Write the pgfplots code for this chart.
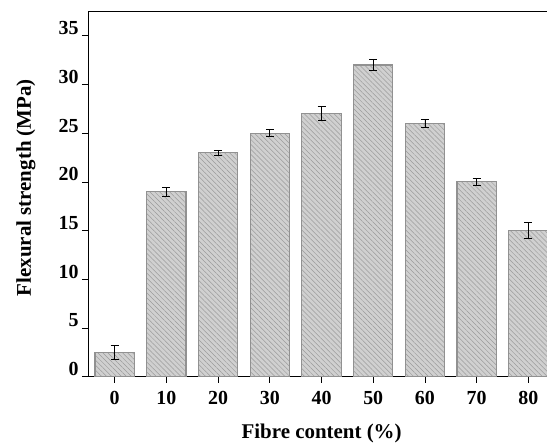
\documentclass[border=0pt]{standalone}
\usepackage{fontspec}
\setmainfont{Liberation Serif}
\usepackage{pgfplots}
\pgfplotsset{compat=1.18}
\usetikzlibrary{patterns.meta}
\definecolor{barfill}{RGB}{208,208,208}
\definecolor{baredge}{RGB}{145,145,145}
\definecolor{hatch}{RGB}{155,155,155}
\begin{document}
\begin{tikzpicture}
\begin{axis}[
  name=ax,
  scale only axis, width=459bp, height=365.7bp,
  xmin=-5.16, xmax=83.6, ymin=0, ymax=37.55,
  separate axis lines, axis x line*=bottom, axis y line*=left,
  axis line style={black, line width=0.9bp},
  xtick={0,10,...,80}, ytick={0,5,...,35},
  tick align=outside, major tick length=6bp,
  tick style={black, line width=0.8bp},
  ticklabel style={font=\fontsize{20}{23}\selectfont\bfseries},
  xticklabel style={yshift=-5bp},
  yticklabel style={yshift=7.5bp},
  /pgf/number format/assume math mode=true,
  xlabel={Fibre content (\%)}, ylabel={Flexural strength (MPa)},
  label style={font=\fontsize{21}{24}\selectfont\bfseries},
  xlabel style={at={(axis description cs:0.509,-0.154)}, anchor=center},
  ylabel style={at={(axis description cs:-0.135,0.517)}, anchor=center},
  clip=false,
]
\addplot[ybar, bar width=7.6, fill=barfill, draw=baredge, line width=1.1bp,
  postaction={pattern={Lines[angle=-45,distance=3.5bp,line width=0.5bp]}, pattern color=hatch},
  error bars/.cd, y dir=both, y explicit,
  error bar style={black, line width=0.9bp},
  error mark options={black, line width=0.9bp, mark size=4bp, rotate=90}]
table[x=x, y=y, y error=e] {
x y e
0 2.5 0.7
10 19 0.45
20 23 0.25
30 25 0.38
40 27 0.7
50 32 0.6
60 26 0.4
70 20 0.4
80 15 0.8
};
\end{axis}
\draw[black, line width=0.9bp] (ax.north west) -- (ax.north east);
\pgfresetboundingbox
\path[use as bounding box] (-88bp,-66.3bp) rectangle (459bp,376.7bp);
\end{tikzpicture}
\end{document}
